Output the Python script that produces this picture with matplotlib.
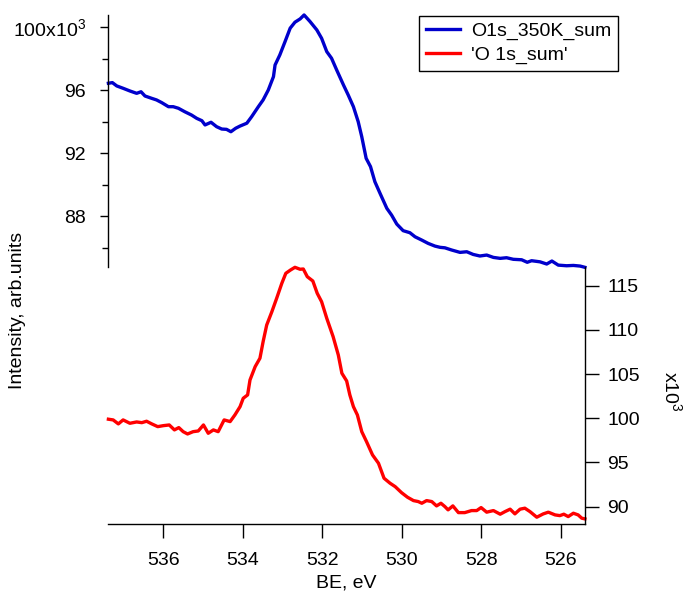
import matplotlib
matplotlib.use("Agg")
import matplotlib.pyplot as plt
from matplotlib.ticker import FixedLocator, FuncFormatter

plt.rcParams["font.family"] = ["Liberation Sans", "DejaVu Sans"]
plt.rcParams["mathtext.default"] = "regular"
plt.rcParams["font.size"] = 14

# ---------------------------------------------------------------- data (intensity in 10^3 counts)
be_350k = [537.38, 537.28, 537.17, 537.01, 536.84, 536.67, 536.56, 536.46, 536.29, 536.17,
           536.04, 535.87, 535.75, 535.62, 535.46, 535.29, 535.16, 535.03, 534.95, 534.80,
           534.66, 534.53, 534.41, 534.30, 534.18, 534.07, 533.90, 533.78, 533.61, 533.49,
           533.36, 533.23, 533.19, 533.07, 532.94, 532.81, 532.69, 532.56, 532.46, 532.31,
           532.14, 532.02, 531.89, 531.77, 531.64, 531.47, 531.35, 531.22, 531.10, 531.01,
           530.90, 530.79, 530.68, 530.55, 530.38, 530.26, 530.13, 529.97, 529.80, 529.67,
           529.50, 529.34, 529.17, 529.04, 528.92, 528.75, 528.54, 528.37, 528.21, 528.04,
           527.87, 527.70, 527.53, 527.37, 527.20, 526.99, 526.85, 526.74, 526.53, 526.36,
           526.23, 526.07, 525.86, 525.69, 525.52, 525.40]
int_350k = [96.44, 96.48, 96.27, 96.12, 95.95, 95.80, 95.90, 95.63, 95.48, 95.38,
            95.21, 94.95, 94.95, 94.85, 94.63, 94.42, 94.21, 94.06, 93.79, 93.96,
            93.68, 93.53, 93.51, 93.36, 93.58, 93.72, 93.90, 94.31, 94.95, 95.38,
            96.01, 96.86, 97.60, 98.24, 99.08, 99.94, 100.32, 100.53, 100.78, 100.36,
            99.83, 99.30, 98.45, 98.03, 97.28, 96.33, 95.69, 94.95, 94.00, 93.04,
            91.67, 91.14, 90.18, 89.44, 88.49, 88.06, 87.49, 87.07, 86.94, 86.68,
            86.47, 86.26, 86.09, 86.01, 85.98, 85.84, 85.69, 85.73, 85.56, 85.46,
            85.52, 85.37, 85.31, 85.35, 85.25, 85.22, 85.06, 85.16, 85.09, 84.95,
            85.14, 84.88, 84.84, 84.86, 84.82, 84.74]

be_o1s = [537.38, 537.26, 537.13, 537.01, 536.84, 536.67, 536.54, 536.42, 536.29, 536.14,
          536.00, 535.85, 535.72, 535.61, 535.50, 535.39, 535.25, 535.12, 534.99, 534.87,
          534.74, 534.62, 534.47, 534.32, 534.20, 534.07, 533.99, 533.88, 533.82, 533.69,
          533.57, 533.49, 533.40, 533.27, 533.15, 533.02, 532.92, 532.80, 532.69, 532.56,
          532.48, 532.38, 532.24, 532.13, 532.02, 531.89, 531.73, 531.60, 531.51, 531.39,
          531.31, 531.22, 531.12, 531.01, 530.89, 530.74, 530.59, 530.45, 530.30, 530.17,
          530.01, 529.86, 529.71, 529.59, 529.50, 529.38, 529.25, 529.13, 529.02, 528.92,
          528.84, 528.72, 528.58, 528.42, 528.25, 528.12, 528.01, 527.87, 527.70, 527.53,
          527.41, 527.28, 527.16, 527.03, 526.91, 526.78, 526.61, 526.45, 526.32, 526.15,
          526.03, 525.93, 525.82, 525.69, 525.57, 525.48, 525.40]
int_o1s = [99.89, 99.81, 99.36, 99.81, 99.43, 99.58, 99.50, 99.66, 99.36, 99.05,
           99.16, 99.24, 98.68, 98.94, 98.48, 98.22, 98.48, 98.56, 99.24, 98.30,
           98.68, 98.48, 99.81, 99.62, 100.37, 101.31, 102.26, 102.64, 104.33, 105.84,
           106.79, 108.67, 110.55, 112.06, 113.57, 115.27, 116.40, 116.78, 117.08, 116.86,
           116.89, 116.02, 115.53, 114.14, 113.19, 111.31, 109.23, 107.16, 105.09, 104.22,
           102.64, 101.31, 100.37, 98.48, 97.35, 95.85, 94.91, 93.21, 92.65, 92.26,
           91.58, 91.06, 90.68, 90.57, 90.38, 90.68, 90.57, 90.08, 90.38, 90.00,
           89.63, 90.08, 89.32, 89.32, 89.55, 89.55, 89.89, 89.37, 89.55, 89.14,
           89.43, 89.71, 89.18, 89.71, 89.82, 89.43, 88.80, 89.17, 89.37, 89.06,
           88.98, 89.14, 88.87, 89.25, 89.06, 88.69, 88.61]

labels = ["O1s_350K_sum", "'O 1s_sum'"]
colors = ["#0000CC", "#FF0000"]
x_ticks = [536, 534, 532, 530, 528, 526]
left_ticks = [88, 92, 96, 100]
left_minor = [86, 90, 94, 98]
right_ticks = [90, 95, 100, 105, 110, 115]

XLIM = (537.383, 525.397)

# ---------------------------------------------------------------- figure
fig = plt.figure(figsize=(6.84, 5.92), dpi=100)
ax_top = fig.add_axes([0.1583, 0.5495, 0.6970, 0.4252])
ax_bot = fig.add_axes([0.1583, 0.1144, 0.6970, 0.4351])
for ax in (ax_top, ax_bot):
    ax.patch.set_alpha(0)
    ax.set_xlim(*XLIM)
    for s in ax.spines.values():
        s.set_linewidth(1.0)

# upper half: blue trace on the left axis
l1, = ax_top.plot(be_350k, int_350k, color=colors[0], lw=2.4, clip_on=False,
                  solid_joinstyle="round")
ax_top.set_ylim(84.78, 100.78)
for s in ("top", "right", "bottom"):
    ax_top.spines[s].set_visible(False)
ax_top.set_xticks([])
ax_top.yaxis.set_major_locator(FixedLocator(left_ticks))
ax_top.yaxis.set_minor_locator(FixedLocator(left_minor))
ax_top.yaxis.set_major_formatter(
    FuncFormatter(lambda v, p: "100x10$^{3}$" if v == 100 else f"{v:.0f}"))
ax_top.tick_params(axis="y", which="major", length=6, width=1.0, pad=10, labelsize=14)
ax_top.tick_params(axis="y", which="minor", length=4.5, width=1.0)

# lower half: red trace on the right axis
l2, = ax_bot.plot(be_o1s, int_o1s, color=colors[1], lw=2.4, clip_on=False,
                  solid_joinstyle="round")
ax_bot.set_ylim(88.0, 117.15)
for s in ("top", "left"):
    ax_bot.spines[s].set_visible(False)
ax_bot.yaxis.tick_right()
ax_bot.set_yticks(right_ticks)
ax_bot.set_xticks(x_ticks)
ax_bot.tick_params(axis="y", length=10, width=1.0, pad=6, labelsize=14)
ax_bot.tick_params(axis="x", length=10, width=1.0, pad=10, labelsize=14)

fig.text(18 / 684, 1 - 310 / 592, "Intensity, arb.units", rotation=90,
         ha="center", va="center", fontsize=14)
fig.text(346.5 / 684, 1 - 583 / 592, "BE, eV", ha="center", va="center", fontsize=14)
fig.text(672 / 684, 1 - 391 / 592, "x10$^{3}$", rotation=270,
         ha="center", va="center", fontsize=14)

leg = fig.legend([l1, l2], labels, loc="upper left",
                 bbox_to_anchor=(419.3 / 684, 1 - 15.7 / 592), borderaxespad=0,
                 fancybox=False, framealpha=1, edgecolor="black", fontsize=14,
                 handlelength=1.75, handletextpad=0.55, labelspacing=0.3,
                 borderpad=0.35)
leg.get_frame().set_linewidth(1.0)

fig.savefig("out.png", dpi=100)
